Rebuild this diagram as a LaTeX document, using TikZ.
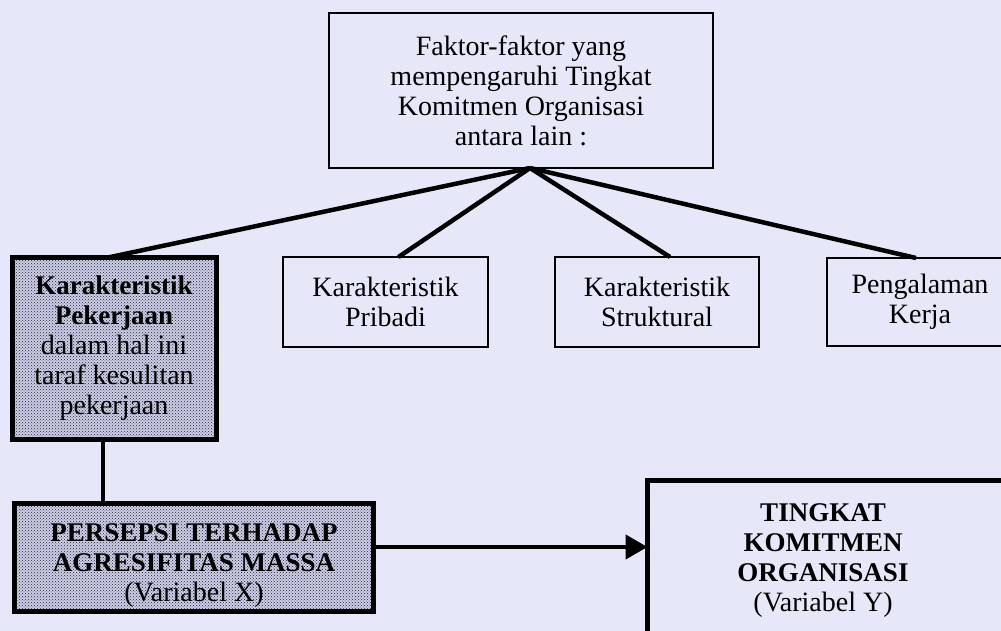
\documentclass[tikz,border=0pt]{standalone}
\usepackage{fontspec}
\setmainfont{Liberation Serif}
\usetikzlibrary{arrows.meta,patterns}
\definecolor{bg}{RGB}{230,232,250}
\definecolor{dotbase}{RGB}{204,206,234}
\newcommand{\bt}[1]{{\fontsize{27}{30}\selectfont\bfseries #1}}
\begin{document}
\begin{tikzpicture}[x=1pt,y=-1pt,
  every node/.style={font=\fontsize{28}{30}\selectfont, align=center, inner sep=0pt, outer sep=0pt},
  thinbox/.style={draw, line width=2.2pt},
  thickbox/.style={draw, line width=5pt},
  dotbox/.style={thickbox, preaction={fill=dotbase}, pattern=crosshatch dots, pattern color=black!85},
  link/.style={line width=4.5pt},
  flow/.style={line width=4.5pt, -{Triangle[length=22pt,width=24pt]}}
]
\useasboundingbox (0,0) rectangle (1001,631);
\fill[bg] (0,0) rectangle (1001,631);

% top box
\node[thinbox, minimum width=384pt, minimum height=155pt] (top) at (521,90.5)
  {Faktor-faktor yang\\mempengaruhi Tingkat\\Komitmen Organisasi\\antara lain :};

% factor boxes
\node[dotbox, minimum width=204pt, minimum height=182pt] (kp) at (114,348.5)
  {\bt{Karakteristik}\\\bt{Pekerjaan}\\dalam hal ini\\taraf kesulitan\\pekerjaan};
\node[thinbox, minimum width=205pt, minimum height=90pt] (kpr) at (385.5,302)
  {Karakteristik\\Pribadi};
\node[thinbox, minimum width=204pt, minimum height=90pt] (ks) at (657,302)
  {Karakteristik\\Struktural};
\node[thinbox, minimum width=186pt, minimum height=88pt] (pk) at (920,302)
  {Pengalaman\\Kerja};

% variable boxes
\node[dotbox, minimum width=359pt, minimum height=108pt] (ps) at (194,557.5)
  {\rule{0pt}{34pt}\bt{PERSEPSI TERHADAP}\\\bt{AGRESIFITAS MASSA}\\(Variabel X)};
\node[thickbox, minimum width=367.5pt, minimum height=169.5pt] (tk) at (831.25,565.25) {};
\node (tktext) at (823,561)
  {\bt{TINGKAT}\\\bt{KOMITMEN}\\\bt{ORGANISASI}\\(Variabel Y)};

% fan connectors
\coordinate (apex) at ([xshift=9pt]top.south);
\draw[link] (apex) -- ([xshift=-6pt]kp.north);
\draw[link] (apex) -- ([xshift=13pt]kpr.north);
\draw[link] (apex) -- ([xshift=13pt]ks.north);
\draw[link] (apex) -- ([xshift=-4pt]pk.north);

% vertical link
\coordinate (vdown) at ([xshift=-11pt]kp.south);
\draw[link] (vdown) -- (vdown |- ps.north);

% arrow
\coordinate (astart) at ([yshift=10.5pt]ps.east);
\draw[flow] (astart) -- (astart -| tk.west);
\end{tikzpicture}
\end{document}
